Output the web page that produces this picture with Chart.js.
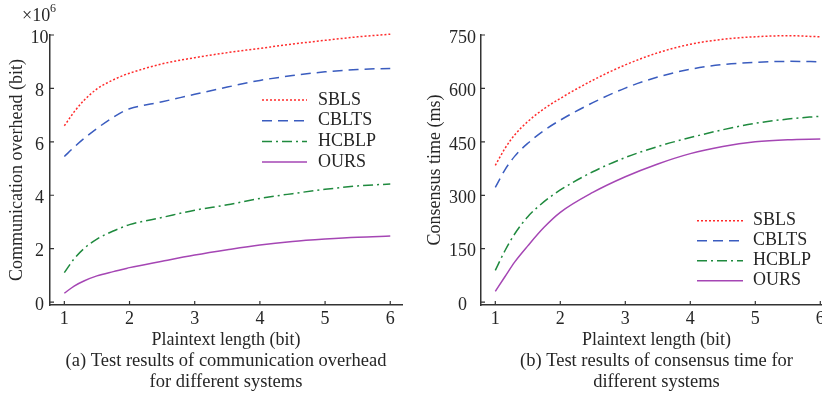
<!DOCTYPE html>
<html>
<head>
<meta charset="utf-8">
<script src="https://cdn.jsdelivr.net/npm/chart.js@4.4.1/dist/chart.umd.min.js"></script>
<style>
  html, body { margin: 0; padding: 0; background: #fff; overflow: hidden; width: 822px; height: 395px; }
  #boxA { position: absolute; left: 0; top: 0; }
  #boxB { position: absolute; left: 411px; top: 0; }
</style>
</head>
<body>
<div id="boxA"><canvas id="overhead" width="411" height="395"></canvas></div>
<div id="boxB"><canvas id="consensus" width="430" height="395"></canvas></div>
<script>
  const systems = ['SBLS', 'CBLTS', 'HCBLP', 'OURS'];
  const colors = ['#ff2b2b', '#3a5cbf', '#1f8a3e', '#a546b4'];
  const dashes = [[2, 2], [10, 6], [10, 4, 2, 4], []];

  const lengthTicks = [1, 2, 3, 4, 5, 6];
  const overheadTicks = [0, 2, 4, 6, 8, 10];
  const timeTicks = [0, 150, 300, 450, 600, 750];

  // (a) communication overhead, x10^6 bit
  const lenA = [1, 1.15, 1.3, 1.5, 1.75, 1.92, 2, 2.5, 3, 3.5, 4, 4.5, 5, 5.5, 6];
  const sblsA = [6.6, 7.12, 7.55, 7.98, 8.32, 8.5, 8.57, 8.92, 9.15, 9.34, 9.5, 9.66, 9.8, 9.93, 10.03];
  const cbltsA = [5.45, 5.8, 6.12, 6.5, 6.92, 7.16, 7.24, 7.5, 7.78, 8.05, 8.3, 8.48, 8.62, 8.71, 8.75];
  const hcblpA = [1.1, 1.62, 2.0, 2.36, 2.66, 2.83, 2.9, 3.17, 3.44, 3.64, 3.88, 4.06, 4.22, 4.35, 4.42];
  const oursA = [0.33, 0.6, 0.79, 0.98, 1.14, 1.24, 1.29, 1.53, 1.76, 1.96, 2.14, 2.27, 2.36, 2.43, 2.47];

  // (b) consensus time, ms
  const lenB = [1, 1.15, 1.3, 1.5, 1.75, 2, 2.5, 3, 3.5, 4, 4.5, 5, 5.5, 6];
  const sblsB = [384, 432, 470, 507, 543, 572, 623, 666, 700, 724, 738, 745, 748, 745];
  const cbltsB = [322, 372, 410, 446, 482, 511, 560, 601, 632, 654, 667, 673, 676, 675];
  const hcblpB = [89, 145, 192, 240, 282, 315, 366, 406, 437, 462, 484, 502, 514, 522];
  const oursB = [30, 72, 113, 158, 210, 252, 308, 352, 388, 417, 437, 450, 456, 458];

  const serif = '"Liberation Serif", "Times New Roman", serif';
  const ink = '#262626';

  Chart.defaults.font.family = serif;
  Chart.defaults.font.size = 18;
  Chart.defaults.color = ink;

  function makeSets(xs, series) {
    return series.map((vals, i) => ({
      label: systems[i],
      data: xs.map((x, j) => ({ x: x, y: vals[j] })),
      borderColor: colors[i],
      borderDash: dashes[i],
      borderWidth: 1.5,
      pointRadius: 0,
      fill: false,
      clip: false,
      cubicInterpolationMode: 'monotone'
    }));
  }

  const innerTicks = {
    id: 'innerTicks',
    afterDraw(chart) {
      const { ctx, chartArea, scales } = chart;
      ctx.save();
      ctx.strokeStyle = '#333';
      ctx.lineWidth = 1.2;
      ctx.beginPath();
      scales.x.ticks.forEach(t => {
        const px = scales.x.getPixelForValue(t.value);
        ctx.moveTo(px, chartArea.bottom);
        ctx.lineTo(px, chartArea.bottom - 4);
      });
      scales.y.ticks.forEach(t => {
        const py = scales.y.getPixelForValue(t.value);
        ctx.moveTo(chartArea.left, py);
        ctx.lineTo(chartArea.left + 4, py);
      });
      ctx.stroke();
      ctx.restore();
    }
  };

  const boxLegend = {
    id: 'boxLegend',
    afterDraw(chart, args, opts) {
      const ctx = chart.ctx;
      ctx.save();
      ctx.font = '18px ' + serif;
      ctx.textBaseline = 'middle';
      chart.data.datasets.forEach((ds, i) => {
        const y = opts.top + i * opts.rowGap;
        ctx.strokeStyle = ds.borderColor;
        ctx.lineWidth = ds.borderWidth;
        ctx.setLineDash(ds.borderDash);
        ctx.beginPath();
        ctx.moveTo(opts.left, y);
        ctx.lineTo(opts.left + opts.lineLen, y);
        ctx.stroke();
        ctx.setLineDash([]);
        ctx.fillStyle = ink;
        ctx.fillText(ds.label, opts.left + opts.lineLen + opts.textGap, y);
      });
      ctx.restore();
    }
  };

  const exponentLabel = {
    id: 'exponentLabel',
    afterDraw(chart) {
      const ctx = chart.ctx;
      ctx.save();
      ctx.fillStyle = ink;
      ctx.textBaseline = 'middle';
      ctx.font = '18px ' + serif;
      ctx.fillText('\u00d710', 22, 16);
      ctx.font = '12px ' + serif;
      ctx.fillText('6', 50, 9);
      ctx.restore();
    }
  };

  function axes(opt) {
    return {
      x: {
        type: 'linear',
        min: 0.78,
        max: 6.18,
        afterBuildTicks: s => { s.ticks = lengthTicks.map(v => ({ value: v })); },
        afterFit: s => { s.height = 46; },
        grid: { display: false, drawTicks: false },
        border: { display: true, color: '#333', width: 1.5 },
        ticks: { padding: 3, color: ink },
        title: { display: true, text: 'Plaintext length (bit)', padding: { top: 0, bottom: 0 }, color: ink }
      },
      y: {
        min: opt.min,
        max: opt.max,
        afterBuildTicks: s => { s.ticks = opt.ticks.map(v => ({ value: v })); },
        afterFit: s => { s.width = opt.width; },
        grid: { display: false, drawTicks: false },
        border: { display: true, color: '#333', width: 1.5 },
        ticks: { padding: opt.pad, crossAlign: 'center', labelOffset: 3, color: ink },
        title: { display: true, text: opt.title, padding: { top: opt.titlePad, bottom: 0 }, color: ink }
      }
    };
  }

  const captionFont = { size: 18.5, weight: 'normal', lineHeight: 21 / 18.5 };

  new Chart(document.getElementById('overhead'), {
    type: 'line',
    data: { datasets: makeSets(lenA, [sblsA, cbltsA, hcblpA, oursA]) },
    options: {
      responsive: false,
      animation: false,
      layout: { padding: { top: 35, right: 9, left: 0, bottom: 0 } },
      scales: axes({ min: -0.11, max: 10, ticks: overheadTicks, width: 50, pad: 1.5, title: 'Communication overhead (bit)', titlePad: 6 }),
      plugins: {
        legend: { display: false },
        tooltip: { enabled: false },
        title: {
          display: true,
          position: 'bottom',
          fullSize: false,
          text: ['(a) Test results of communication overhead', 'for different systems'],
          font: captionFont,
          padding: { top: 0, bottom: 2 },
          color: ink
        },
        boxLegend: { left: 262, top: 100, rowGap: 20.7, lineLen: 45, textGap: 11 }
      }
    },
    plugins: [innerTicks, boxLegend, exponentLabel]
  });

  new Chart(document.getElementById('consensus'), {
    type: 'line',
    data: { datasets: makeSets(lenB, [sblsB, cbltsB, hcblpB, oursB]) },
    options: {
      responsive: false,
      animation: false,
      layout: { padding: { top: 35, right: 9, left: 0, bottom: 0 } },
      scales: axes({ min: -8, max: 750, ticks: timeTicks, width: 70, pad: 5, title: 'Consensus time (ms)', titlePad: 13 }),
      plugins: {
        legend: { display: false },
        tooltip: { enabled: false },
        title: {
          display: true,
          position: 'bottom',
          fullSize: false,
          text: ['(b) Test results of consensus time for', 'different systems'],
          font: captionFont,
          padding: { top: 0, bottom: 2 },
          color: ink
        },
        boxLegend: { left: 286, top: 220.7, rowGap: 20, lineLen: 46, textGap: 10 }
      }
    },
    plugins: [innerTicks, boxLegend]
  });
</script>
</body>
</html>
